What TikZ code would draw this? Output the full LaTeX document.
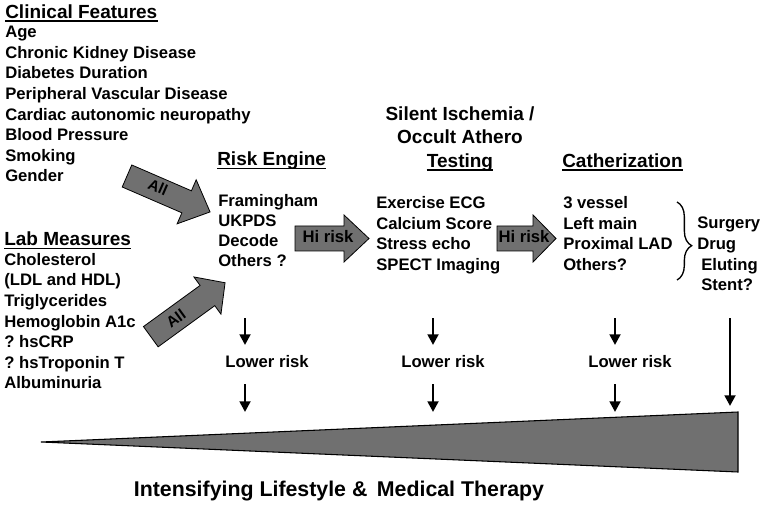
\documentclass[tikz,border=0pt]{standalone}
\usepackage{fontspec}
\setmainfont{Liberation Sans}
\usetikzlibrary{arrows.meta,decorations.pathreplacing}
\definecolor{arrowgray}{RGB}{112,112,112}
\frenchspacing
\begin{document}
\begin{tikzpicture}[x=0.75pt,y=-0.75pt,
 item/.style={anchor=base west,inner sep=0pt,font=\fontsize{12.5}{15}\selectfont\bfseries},
 citem/.style={anchor=base,inner sep=0pt,font=\fontsize{12.5}{15}\selectfont\bfseries},
 ttl/.style={anchor=base west,inner sep=0pt,font=\fontsize{14.25}{17}\selectfont\bfseries},
 cttl/.style={anchor=base,inner sep=0pt,font=\fontsize{14.25}{17}\selectfont\bfseries},
 allt/.style={inner sep=0pt,font=\fontsize{11.5}{13}\selectfont\bfseries},
 uline/.style={line width=1.1pt},
 down/.style={line width=2.1pt,-{Triangle[length=8pt,width=8pt]}},
 garrow/.style={fill=arrowgray,draw=black,line width=0.6pt},
]
\fill[white] (0,0) rectangle (762,505);
\useasboundingbox (0,0) rectangle (762,505);

% Clinical features
\node[ttl] (cft) at (5,18.5) {Clinical Features};
\draw[uline] ([yshift=-2pt]cft.base west) -- ([yshift=-2pt]cft.base east);
\foreach \t [count=\i] in {Age,Chronic Kidney Disease,Diabetes Duration,Peripheral Vascular Disease,Cardiac autonomic neuropathy,Blood Pressure,Smoking,Gender}{
  \pgfmathsetmacro{\yy}{37.7+20.6*(\i-1)}
  \node[item] (cf\i) at (5,\yy) {\t};
}

% Lab measures
\node[ttl] (lmt) at (4,245.7) {Lab Measures};
\draw[uline] ([yshift=-2pt]lmt.base west) -- ([yshift=-2pt]lmt.base east);
\foreach \t [count=\i] in {Cholesterol,{(LDL and HDL)},Triglycerides,Hemoglobin A1c,? hsCRP,? hsTroponin T,Albuminuria}{
  \pgfmathsetmacro{\yy}{265.3+20.6*(\i-1)}
  \node[item] (lm\i) at (4,\yy) {\t};
}

% Risk engine
\node[ttl] (ret) at (217,166) {Risk Engine};
\draw[uline] ([yshift=-2pt]ret.base west) -- ([yshift=-2pt]ret.base east);
\foreach \t [count=\i] in {Framingham,UKPDS,Decode,Others ?}{
  \pgfmathsetmacro{\yy}{207+20*(\i-1)}
  \node[item] (re\i) at (218,\yy) {\t};
}

% Testing
\node[cttl] (st1) at (460,120.7) {Silent Ischemia /};
\node[cttl] (st2) at (460,144) {Occult Athero};
\node[cttl] (st3) at (460,167.3) {Testing};
\draw[uline] ([yshift=-2pt]st3.base west) -- ([yshift=-2pt]st3.base east);
\foreach \t [count=\i] in {Exercise ECG,Calcium Score,Stress echo,SPECT Imaging}{
  \pgfmathsetmacro{\yy}{209+20.4*(\i-1)}
  \node[item] (te\i) at (376,\yy) {\t};
}

% Catherization
\node[ttl] (cat) at (562,167.3) {Catherization};
\draw[uline] ([yshift=-2pt]cat.base west) -- ([yshift=-2pt]cat.base east);
\foreach \t [count=\i] in {3 vessel,Left main,Proximal LAD,Others?}{
  \pgfmathsetmacro{\yy}{209+20.4*(\i-1)}
  \node[item] (ca\i) at (563,\yy) {\t};
}

% Brace and treatment
\coordinate (brtop) at (677,202);
\coordinate (brbot) at (677,280);
\draw[line width=1pt,decorate,decoration={brace,amplitude=11pt,aspect=0.56}] (brtop) -- (brbot);
\node[item] (su1) at (697,229) {Surgery};
\node[item] (su2) at (697,250) {Drug};
\node[item] (su3) at (701,270.5) {Eluting};
\node[item] (su4) at (701,291) {Stent?};

% Hi risk arrows
\draw[garrow] (295,226) -- (344,226) -- (344,215) -- (369,238.5) -- (344,262) -- (344,251) -- (295,251) -- cycle;
\node[citem] (hr1) at (328,242.5) {Hi risk};
\draw[garrow] (497,226) -- (533,226) -- (533,215) -- (556,238.5) -- (533,262) -- (533,251) -- (497,251) -- cycle;
\node[citem] (hr2) at (524,242.5) {Hi risk};

% All arrows
\begin{scope}[shift={(127,176)},rotate=-23.4]
\draw[garrow] (0,-12) -- (65,-12) -- (65,-24) -- (90.5,0) -- (65,24) -- (65,12) -- (0,12) -- cycle;
\node[allt,rotate=-23.4] (all1) at (33,-2) {All};
\end{scope}
\begin{scope}[shift={(150.8,336.7)},rotate=36]
\draw[garrow] (0,-12.5) -- (70,-12.5) -- (70,-23) -- (91.8,0) -- (70,23) -- (70,12.5) -- (0,12.5) -- cycle;
\node[allt,rotate=36] (all2) at (31,0) {All};
\end{scope}

% Lower risk
\node[citem] (lr1) at (267,367) {Lower risk};
\node[citem] (lr2) at (443,367) {Lower risk};
\node[citem] (lr3) at (630,367) {Lower risk};

\foreach \x/\n in {245/1,433/2,615/3}{
  \coordinate (da\n) at (\x,318);
  \coordinate (db\n) at (\x,345);
  \coordinate (dc\n) at (\x,384);
  \coordinate (dd\n) at (\x,412);
  \draw[down] (da\n) -- (db\n);
  \draw[down] (dc\n) -- (dd\n);
}
\coordinate (lga) at (730,318);
\coordinate (lgb) at (730,406);
\draw[down] (lga) -- (lgb);

% Wedge
\draw[fill=arrowgray,draw=black,line width=0.8pt] (41,442) -- (738,412) -- (738,472) -- cycle;

\node[anchor=base,inner sep=0pt,font=\fontsize{16}{19}\selectfont\bfseries] (ilm) at (339,496.5) {Intensifying Lifestyle \& \,Medical Therapy};
\end{tikzpicture}
\end{document}
